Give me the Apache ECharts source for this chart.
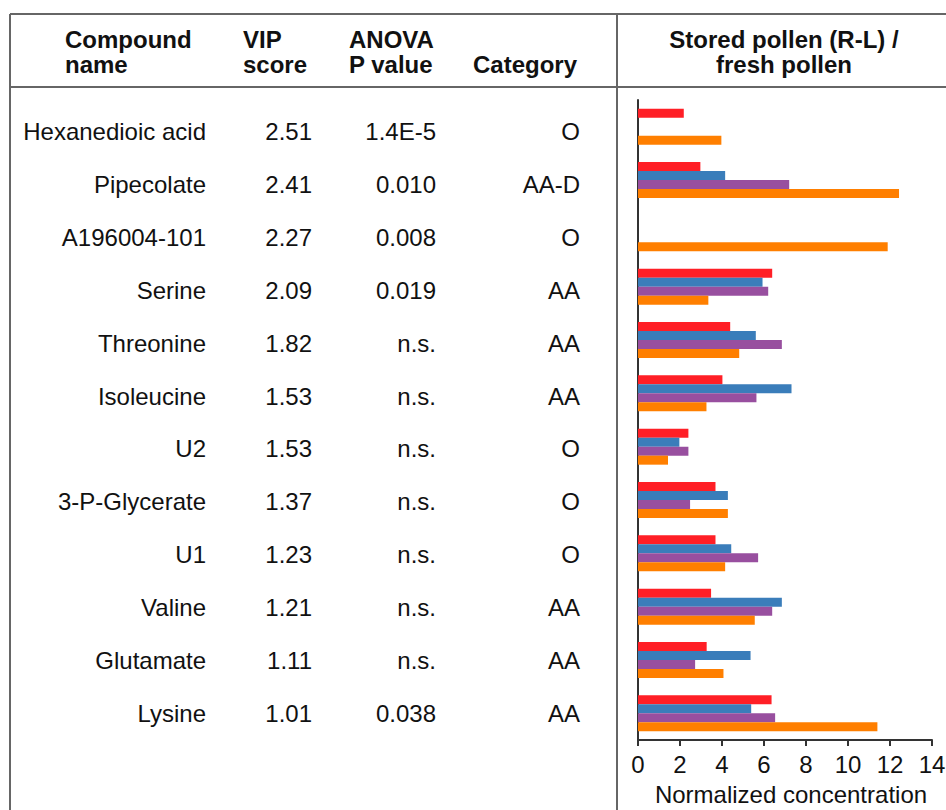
<!DOCTYPE html>
<html>
<head>
<meta charset="utf-8">
<script src="https://cdn.jsdelivr.net/npm/echarts@6/dist/echarts.min.js"></script>
<style>
  html, body { margin: 0; padding: 0; background: #ffffff; }
  #chart { width: 946px; height: 810px; }
</style>
</head>
<body>
<div id="chart"></div>
<script>
// Table columns
const compounds = ['Hexanedioic acid', 'Pipecolate', 'A196004-101', 'Serine', 'Threonine', 'Isoleucine',
                   'U2', '3-P-Glycerate', 'U1', 'Valine', 'Glutamate', 'Lysine'];
const vipScores = ['2.51', '2.41', '2.27', '2.09', '1.82', '1.53', '1.53', '1.37', '1.23', '1.21', '1.11', '1.01'];
const pValues = ['1.4E-5', '0.010', '0.008', '0.019', 'n.s.', 'n.s.', 'n.s.', 'n.s.', 'n.s.', 'n.s.', 'n.s.', '0.038'];
const compoundClass = ['O', 'AA-D', 'O', 'AA', 'AA', 'AA', 'O', 'O', 'O', 'AA', 'AA', 'AA'];

// Normalized concentration, stored / fresh pollen (null = not detected)
const redValues    = [2.18, 2.97, null, 6.39, 4.39, 4.02, 2.40, 3.69, 3.69, 3.48, 3.27, 6.36];
const blueValues   = [null, 4.15, null, 5.93, 5.61, 7.31, 1.97, 4.28, 4.44, 6.85, 5.36, 5.39];
const purpleValues = [null, 7.20, null, 6.20, 6.85, 5.64, 2.40, 2.48, 5.72, 6.39, 2.72, 6.53];
const orangeValues = [3.97, 12.43, 11.89, 3.35, 4.82, 3.26, 1.43, 4.28, 4.15, 5.56, 4.07, 11.40];

// Value axis range
const axisMin = 0;
const axisMax = 14;
const axisStep = 2;

const FONT = '"Liberation Sans", Arial, Helvetica, sans-serif';
const INK = '#111111';
const RULE = '#666666';

const chart = echarts.init(document.getElementById('chart'), null, { renderer: 'svg' });

const PLOT_LEFT = 638;

// one hidden category axis per table column, right-aligned at the column edge
function textColumn(values, rightEdge) {
  return {
    gridIndex: 1,
    type: 'category',
    data: compounds,
    inverse: true,
    position: 'left',
    offset: PLOT_LEFT - rightEdge,
    axisLine: { show: false },
    axisTick: { show: false },
    splitLine: { show: false },
    axisLabel: {
      show: true,
      margin: 0,
      fontSize: 24,
      fontFamily: FONT,
      color: INK,
      interval: 0,
      formatter: (v, i) => values[i]
    }
  };
}

function barSeries(name, values, color) {
  return {
    name: name,
    type: 'bar',
    xAxisIndex: 0,
    yAxisIndex: 0,
    data: values,
    barWidth: 9,
    barGap: '0%',
    itemStyle: { color: color },
    silent: true
  };
}

function header(text, x, y, align, bold) {
  return {
    type: 'text',
    x: x,
    y: y,
    silent: true,
    style: {
      text: text,
      fill: INK,
      fontSize: 24,
      fontWeight: bold ? 'bold' : 'normal',
      fontFamily: FONT,
      align: align,
      verticalAlign: 'middle'
    }
  };
}

function rule(x1, y1, x2, y2) {
  return {
    type: 'line',
    silent: true,
    shape: { x1: x1, y1: y1, x2: x2, y2: y2 },
    style: { stroke: RULE, lineWidth: 2 }
  };
}

const option = {
  backgroundColor: '#ffffff',
  animation: false,
  grid: [
    { left: PLOT_LEFT, right: 14, top: 100, bottom: 70, outerBoundsMode: 'none', containLabel: false },
    { left: PLOT_LEFT, right: 14, top: 105, bottom: 70, outerBoundsMode: 'none', containLabel: false }
  ],
  xAxis: [
    {
      gridIndex: 0,
      type: 'value',
      min: axisMin,
      max: axisMax,
      interval: axisStep,
      axisLine: { show: true, lineStyle: { color: '#333333', width: 2 } },
      axisTick: { show: true, length: 6, lineStyle: { color: '#333333', width: 2 } },
      splitLine: { show: false },
      axisLabel: { fontSize: 24, fontFamily: FONT, color: INK, margin: 12 },
      name: 'Normalized concentration',
      nameLocation: 'middle',
      nameGap: 42,
      nameTextStyle: { fontSize: 24, fontFamily: FONT, color: INK, padding: [0, 0, 0, 12] }
    },
    { gridIndex: 1, type: 'value', show: false }
  ],
  yAxis: [
    {
      gridIndex: 0,
      type: 'category',
      data: compounds,
      inverse: true,
      axisLine: { show: true, lineStyle: { color: '#333333', width: 2 } },
      axisTick: { show: false },
      axisLabel: { show: false },
      splitLine: { show: false }
    },
    textColumn(compounds, 206),
    textColumn(vipScores, 312),
    textColumn(pValues, 436),
    textColumn(compoundClass, 580)
  ],
  series: [
    barSeries('red', redValues, '#ff1f26'),
    barSeries('blue', blueValues, '#3a7dba'),
    barSeries('purple', purpleValues, '#984f9f'),
    barSeries('orange', orangeValues, '#ff7f00')
  ],
  graphic: [
    rule(10, 14, 946, 14),
    rule(10, 87, 946, 87),
    rule(10, 14, 10, 810),
    rule(617, 14, 617, 810),
    header('Compound', 65, 39, 'left', true),
    header('name', 65, 64, 'left', true),
    header('VIP', 243, 39, 'left', true),
    header('score', 243, 64, 'left', true),
    header('ANOVA', 349, 39, 'left', true),
    header('P value', 349, 64, 'left', true),
    header('Category', 473, 64, 'left', true),
    header('Stored pollen (R-L) /', 784, 39, 'center', true),
    header('fresh pollen', 784, 64, 'center', true)
  ]
};

chart.setOption(option);
</script>
</body>
</html>
